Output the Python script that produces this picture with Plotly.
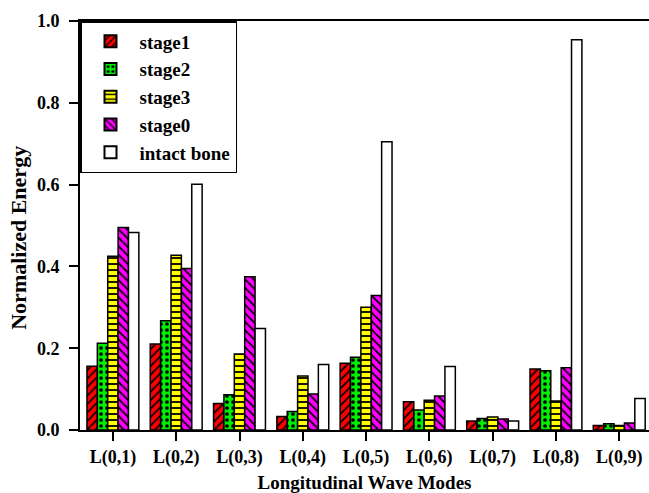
import plotly.graph_objects as go

modes = ["L(0,1)", "L(0,2)", "L(0,3)", "L(0,4)", "L(0,5)", "L(0,6)", "L(0,7)", "L(0,8)", "L(0,9)"]
stage1 = [0.156, 0.210, 0.065, 0.033, 0.163, 0.069, 0.022, 0.149, 0.011]
stage2 = [0.212, 0.267, 0.086, 0.045, 0.178, 0.049, 0.028, 0.145, 0.015]
stage3 = [0.425, 0.427, 0.186, 0.132, 0.300, 0.073, 0.032, 0.071, 0.011]
stage0 = [0.495, 0.395, 0.375, 0.088, 0.329, 0.083, 0.027, 0.152, 0.017]
intact = [0.483, 0.601, 0.248, 0.160, 0.705, 0.155, 0.022, 0.954, 0.077]
yticks = [0.0, 0.2, 0.4, 0.6, 0.8, 1.0]

xpos = list(range(1, len(modes) + 1))

series = [
    ("stage1", stage1, "#ff0000", "/"),
    ("stage2", stage2, "#00ee00", "."),
    ("stage3", stage3, "#ffff00", "-"),
    ("stage0", stage0, "#ff00ff", "\\"),
    ("intact bone", intact, "#ffffff", ""),
]

fig = go.Figure()
for name, vals, col, shp in series:
    marker = dict(color=col, line=dict(color="black", width=1.5))
    if shp:
        marker["pattern"] = dict(shape=shp, fgcolor="black", bgcolor=col,
                                 fillmode="replace", size=6, solidity=0.3)
    fig.add_trace(go.Bar(x=xpos, y=vals, name="<b>%s</b>" % name, marker=marker))

font = dict(family="Liberation Serif", size=18, color="black")
fig.update_layout(
    width=649, height=493,
    margin=dict(l=80, r=0, t=21, b=63),
    plot_bgcolor="white", paper_bgcolor="white",
    barmode="group", bargap=0.18, bargroupgap=0,
    font=font,
    showlegend=True,
    legend=dict(x=0.0, y=1.0, xanchor="left", yanchor="top",
                bordercolor="black", borderwidth=1.5, bgcolor="white",
                font=dict(family="Liberation Serif", size=19, color="black"),
                tracegroupgap=1, itemsizing="constant", itemwidth=48),
    annotations=[dict(text="<b>Normalized Energy</b>", textangle=-90,
                      xref="paper", yref="paper", x=0, y=0.47,
                      xanchor="center", yanchor="middle", xshift=-61,
                      showarrow=False,
                      font=dict(family="Liberation Serif", size=22, color="black"))],
)
fig.update_xaxes(
    range=[0.48, 9.47], tickvals=xpos, ticktext=["<b>%s</b>" % m for m in modes],
    showline=True, linecolor="black", linewidth=2, mirror=True,
    ticks="outside", ticklen=9, tickwidth=2, tickcolor="black",
    showgrid=False, zeroline=False,
    title=dict(text="<b>Longitudinal Wave Modes</b>", font=dict(size=19), standoff=10),
    tickfont=dict(size=18),
)
fig.update_yaxes(
    range=[0, 1.0], tickvals=yticks, ticktext=["<b>%.1f</b>" % v for v in yticks],
    showline=True, linecolor="black", linewidth=2, mirror=False,
    ticks="outside", ticklen=9, tickwidth=2, tickcolor="black",
    showgrid=False, zeroline=False, ticklabelstandoff=6,
    tickfont=dict(size=18),
)
fig.write_html("out.html", config={"displayModeBar": False},
               post_script="document.body.style.margin='0';")
